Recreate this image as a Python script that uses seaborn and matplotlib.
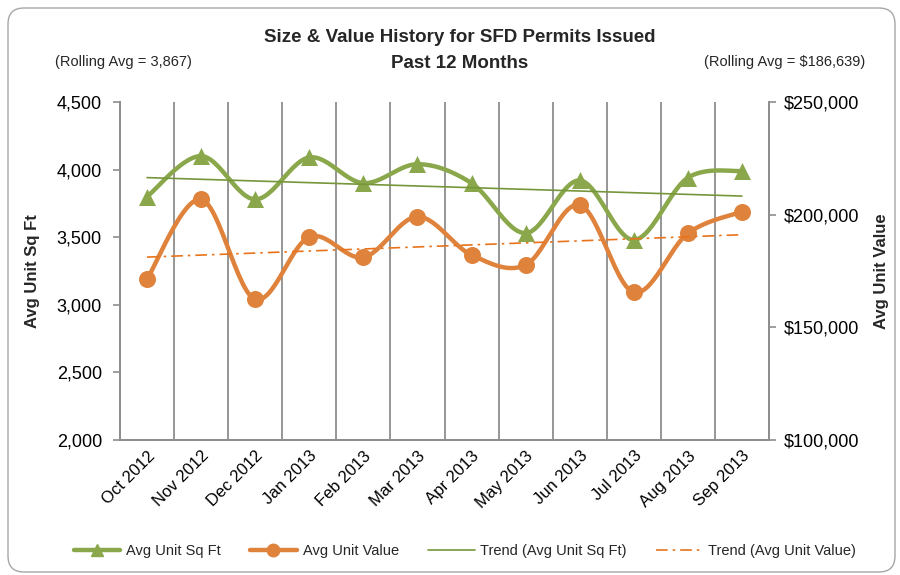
import numpy as np
import pandas as pd
import matplotlib
matplotlib.use("Agg")
import matplotlib.pyplot as plt
import seaborn as sns
from matplotlib.lines import Line2D
from matplotlib.patches import FancyBboxPatch
from matplotlib.ticker import FuncFormatter, FixedLocator

# ---------------- data ----------------
months = ["Oct 2012", "Nov 2012", "Dec 2012", "Jan 2013", "Feb 2013", "Mar 2013",
          "Apr 2013", "May 2013", "Jun 2013", "Jul 2013", "Aug 2013", "Sep 2013"]
avg_sqft = [3800, 4100, 3780, 4090, 3900, 4040, 3900, 3530, 3920, 3480, 3940, 3990]
avg_value = [171450, 206800, 162440, 190090, 181070, 199100,
             182100, 177660, 204290, 165540, 191720, 201330]
rolling_sqft_label = "(Rolling Avg = 3,867)"
rolling_value_label = "(Rolling Avg = $186,639)"
title_line1 = "Size & Value History for SFD Permits Issued"
title_line2 = "Past 12 Months"
left_ticks = [2000, 2500, 3000, 3500, 4000, 4500]
right_ticks = [100000, 150000, 200000, 250000]

GREEN = "#8AA84B"
GREEN_TREND = "#76963A"
ORANGE = "#DF823B"
ORANGE_TREND = "#E8731A"
GRID = "#8E8E8E"

sns.set_theme(style="white")
plt.rcParams["font.family"] = ["Liberation Sans", "DejaVu Sans"]


def smooth(x, y, n=30):
    """Excel-like smoothed line (Catmull-Rom Bezier) for drawing."""
    x = np.asarray(x, float)
    y = np.asarray(y, float)
    P = np.column_stack([x, y])
    P = np.vstack([P[0], P, P[-1]])
    out = []
    t = np.linspace(0, 1, n)[:, None]
    for i in range(1, len(P) - 2):
        p0, p1, p2, p3 = P[i - 1], P[i], P[i + 1], P[i + 2]
        c1 = p1 + (p2 - p0) / 6.0
        c2 = p2 - (p3 - p1) / 6.0
        seg = ((1 - t) ** 3) * p1 + 3 * ((1 - t) ** 2) * t * c1 + 3 * (1 - t) * t ** 2 * c2 + t ** 3 * p2
        out.append(seg if i == 1 else seg[1:])
    out = np.vstack(out)
    return out[:, 0], out[:, 1]


x = np.arange(len(months))
df = pd.DataFrame({"x": x, "month": months, "sqft": avg_sqft, "value": avg_value})

fig = plt.figure(figsize=(9, 5.75), dpi=100)

# outer rounded border (in inches)
border = FancyBboxPatch((0.08, 0.03), 8.87, 5.64,
                        boxstyle="round,pad=0,rounding_size=0.16",
                        transform=fig.dpi_scale_trans, facecolor="white",
                        edgecolor="#A6A6A6", linewidth=1.0, zorder=-10)
fig.patches.append(border)

ax = fig.add_axes([120 / 900, 1 - 440 / 575, 649 / 900, 338 / 575])
ax.set_facecolor("none")
ax2 = ax.twinx()

# vertical gridlines at category boundaries
for b in np.arange(0.5, len(months) - 0.5, 1.0):
    ax.axvline(b, color=GRID, linewidth=1.3, zorder=0)

# sq ft series (left axis)
sx, sy = smooth(df["x"], df["sqft"])
sns.lineplot(x=sx, y=sy, ax=ax, color=GREEN, linewidth=3.2, sort=False,
             estimator=None, zorder=3)
sns.scatterplot(data=df, x="x", y="sqft", ax=ax, marker="^", s=150, color=GREEN,
                edgecolor=GREEN, linewidth=0, zorder=4)
k1 = np.polyfit(df["x"], df["sqft"], 1)
ax.plot(df["x"], np.polyval(k1, df["x"]), color=GREEN_TREND, linewidth=1.2, zorder=5)

# value series (right axis)
vx, vy = smooth(df["x"], df["value"])
sns.lineplot(x=vx, y=vy, ax=ax2, color=ORANGE, linewidth=3.2, sort=False,
             estimator=None, zorder=3)
sns.scatterplot(data=df, x="x", y="value", ax=ax2, marker="o", s=150, color=ORANGE,
                edgecolor=ORANGE, linewidth=0, zorder=4)
k2 = np.polyfit(df["x"], df["value"], 1)
ax2.plot(df["x"], np.polyval(k2, df["x"]), color=ORANGE_TREND, linewidth=1.2,
         linestyle=(0, (7, 3, 1.5, 3)), zorder=5)

# axes limits / ticks
ax.set_xlim(-0.5, len(months) - 0.5)
ax.set_ylim(left_ticks[0], left_ticks[-1])
ax2.set_ylim(right_ticks[0], right_ticks[-1])
ax.set_yticks(left_ticks)
ax.yaxis.set_major_formatter(FuncFormatter(lambda v, p: f"{int(v):,}"))
ax2.set_yticks(right_ticks)
ax2.yaxis.set_major_formatter(FuncFormatter(lambda v, p: f"${int(v):,}"))

ax.set_xticks(x)
ax.set_xticklabels(months, rotation=45, ha="right", rotation_mode="anchor")
ax.xaxis.set_minor_locator(FixedLocator(np.arange(-0.5, len(months), 1.0)))
ax.tick_params(axis="x", which="major", length=0, pad=6, labelsize=12, colors="black")
ax.tick_params(axis="x", which="minor", length=5, width=1.2, color=GRID, direction="out")
ax.tick_params(axis="y", length=5, width=1.2, color=GRID, direction="out",
               labelsize=13, pad=8, labelcolor="black", left=True)
ax2.tick_params(axis="y", length=5, width=1.2, color=GRID, direction="out",
                labelsize=13, pad=6, labelcolor="black", right=True)
for a in (ax, ax2):
    a.spines["top"].set_visible(False)
    for s in ("left", "right", "bottom"):
        a.spines[s].set_color(GRID)
        a.spines[s].set_linewidth(1.3)

ax.set_xlabel("")
ax.set_ylabel("Avg Unit Sq Ft", fontsize=12, fontweight="bold", labelpad=12)
ax2.set_ylabel("Avg Unit Value", fontsize=12, fontweight="bold", labelpad=10)
ax.grid(False)
ax2.grid(False)

# titles & annotations
fig.text(460 / 900, 1 - 37 / 575, title_line1, ha="center", va="center",
         fontsize=13.5, fontweight="bold")
fig.text(460 / 900, 1 - 64 / 575, title_line2, ha="center", va="center",
         fontsize=13.5, fontweight="bold")
fig.text(55 / 900, 1 - 62 / 575, rolling_sqft_label, ha="left", va="center", fontsize=10.5)
fig.text(865 / 900, 1 - 62 / 575, rolling_value_label, ha="right", va="center", fontsize=10.5)

# legend
handles = [
    Line2D([], [], color=GREEN, linewidth=3.2, marker="^", markersize=9),
    Line2D([], [], color=ORANGE, linewidth=3.2, marker="o", markersize=9),
    Line2D([], [], color=GREEN_TREND, linewidth=1.2),
    Line2D([], [], color=ORANGE_TREND, linewidth=1.2, linestyle=(0, (7, 3, 1.5, 3))),
]
labels = ["Avg Unit Sq Ft", "Avg Unit Value", "Trend (Avg Unit Sq Ft)", "Trend (Avg Unit Value)"]
fig.legend(handles, labels, loc="center", bbox_to_anchor=(465 / 900, 1 - 551 / 575),
           ncol=4, frameon=False, fontsize=10.5, handlelength=3.2, handletextpad=0.4,
           columnspacing=2.0)

fig.savefig("out.png", dpi=100, facecolor="white")
